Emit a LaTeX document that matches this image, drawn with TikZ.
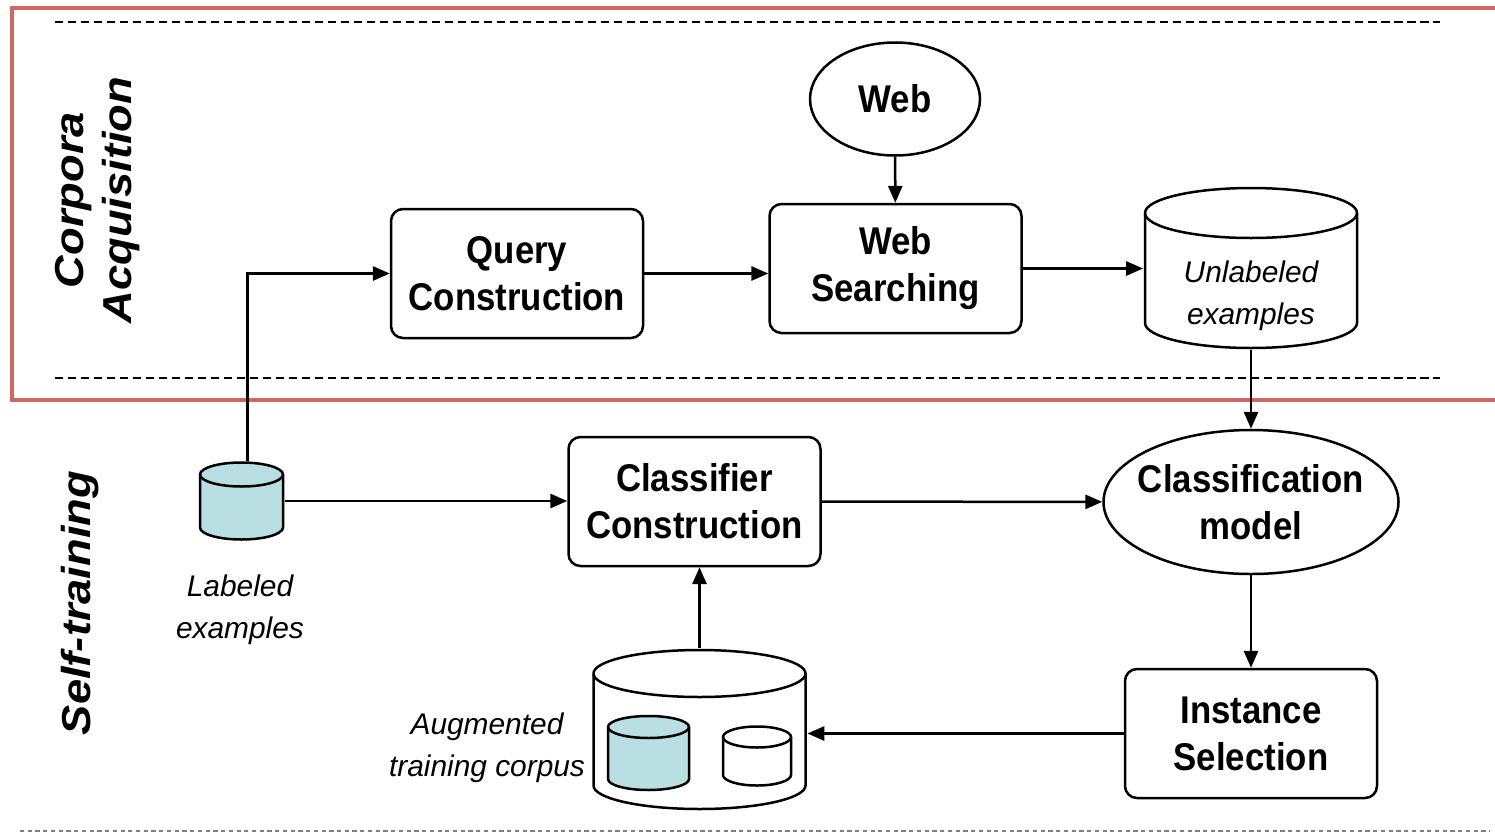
\documentclass[tikz,border=0pt]{standalone}
\usepackage{fontspec}
\setmainfont{Liberation Sans}
\newfontfamily\narrowsans{Liberation Sans}[FakeStretch=0.9]
\newfontfamily\widesans{Liberation Sans}[FakeStretch=1.12]
\usetikzlibrary{shapes.geometric,arrows.meta}

\definecolor{framered}{RGB}{207,104,97}
\definecolor{corpusblue}{RGB}{185,223,227}

\makeatletter
\tikzset{
    store/.style={
        path picture={
            \filldraw[line width=0.25mm, fill=\store@fill] (-\store@radius, 0.5*\store@body) -- ++(0,-\store@body) arc [start angle=180,end angle=360,x radius=\store@radius,y radius=\store@cap] -- ++(0,\store@body) arc [start angle=0,end angle=180,x radius=\store@radius,y radius=\store@cap] -- cycle;
            \draw[line width=0.25mm] (-\store@radius, 0.5*\store@body) arc [start angle=180,end angle=360,x radius=\store@radius,y radius=\store@cap];
        },
        minimum width=2*\store@radius + 0.25mm,
        minimum height=\store@body + 2*\store@cap + 0.25mm,
        inner sep=0pt,
    },
    store radius/.store in=\store@radius,
    store cap/.store in=\store@cap,
    store body/.store in=\store@body,
    store fill/.store in=\store@fill,
    store radius=0.4cm,
    store cap=0.12cm,
    store body=0.5cm,
    store fill=white,
}
\makeatother

\tikzset{
    procbox/.style={draw=black, line width=0.25mm, rounded corners=0.12cm, minimum width=2.52cm, minimum height=1.29cm, align=center, font=\narrowsans\fontsize{11}{13.4}\selectfont\bfseries},
    oval/.style={draw=black, line width=0.25mm, ellipse, align=center, font=\narrowsans\fontsize{11}{13.4}\selectfont\bfseries},
    storetext/.style={align=center, font=\fontsize{8.5}{11.8}\selectfont\itshape},
    sidetext/.style={rotate=90, align=center, font=\widesans\fontsize{11.5}{13.7}\selectfont\bfseries\itshape},
    flow/.style={-{Triangle[length=4.8pt,width=4pt]}, line width=0.25mm},
    divider/.style={dash pattern=on 2.3pt off 1.4pt, line width=0.25mm},
}

\begin{document}
\begin{tikzpicture}
  \useasboundingbox (0,0) rectangle (14.95,-8.34);

  % Frame and dividers
  \draw[framered, line width=1.1pt] (14.98,-0.08) -- (0.12,-0.08) -- (0.12,-4.0) -- (14.98,-4.0);
  \draw[divider] (0.55,-0.22) -- (14.4,-0.22);
  \draw[divider] (0.55,-3.78) -- (14.4,-3.78);
  \draw[gray, dash pattern=on 1.2pt off 1pt, line width=0.15mm] (0.2,-8.31) -- (14.9,-8.31);

  % Side labels
  \node[sidetext] (acqlabel) at (0.98,-2.0) {Corpora\\Acquisition};
  \node[sidetext] (selflabel) at (0.80,-6.03) {Self-training};

  % Corpora acquisition
  \node[oval, inner sep=1pt, minimum width=1.70cm, minimum height=1.13cm] (web) at (8.95,-0.99) {Web};
  \node[procbox] (query) at (5.17,-2.735) {Query\\Construction};
  \node[procbox] (search) at (8.955,-2.685) {Web\\Searching};
  \node[store, store radius=1.06cm, store cap=0.25cm, store body=1.10cm] (unlab) at (12.51,-2.68) {};
  \node[storetext] (unlabtext) at (12.51,-2.96) {Unlabeled\\examples};

  % Self-training
  \node[store, store fill=corpusblue, store radius=0.415cm, store cap=0.12cm, store body=0.53cm] (labeled) at (2.415,-5.01) {};
  \node[storetext] (labeledtext) at (2.40,-6.10) {Labeled\\examples};
  \node[procbox] (clscon) at (6.945,-5.015) {Classifier\\Construction};
  \node[oval, inner xsep=-2.6pt, inner ysep=3pt, minimum width=2.95cm, minimum height=1.44cm] (model) at (12.51,-5.02) {Classification\\model};
  \node[procbox] (inst) at (12.51,-7.335) {Instance\\Selection};

  % Augmented corpus
  \node[store, store radius=1.06cm, store cap=0.235cm, store body=1.12cm] (corpus) at (6.995,-7.295) {};
  \node[store, store fill=corpusblue, store radius=0.405cm, store cap=0.11cm, store body=0.52cm] (oldset) at (6.485,-7.53) {};
  \node[store, store radius=0.34cm, store cap=0.105cm, store body=0.38cm] (newset) at (7.57,-7.56) {};
  \node[storetext] (corpustext) at (4.87,-7.48) {Augmented\\training corpus};

  % Arrows
  \draw[flow] ([xshift=0.06cm]labeled.north) |- (query.west);
  \draw[flow] (query.east) -- (query.east -| search.west);
  \draw[flow] (web) -- (search);
  \draw[flow] (search.east) -- (search.east -| unlab.west);
  \draw[flow] (unlab.south) -- (model.north);
  \draw[flow] (labeled.east) -- (labeled.east -| clscon.west);
  \draw[flow] (clscon) -- (model);
  \draw[flow] (model) -- (inst);
  \draw[flow] (inst.west) -- (inst.west -| corpus.east);
  \draw[flow] (corpus.north) -- (corpus.north |- clscon.south);

\end{tikzpicture}
\end{document}
